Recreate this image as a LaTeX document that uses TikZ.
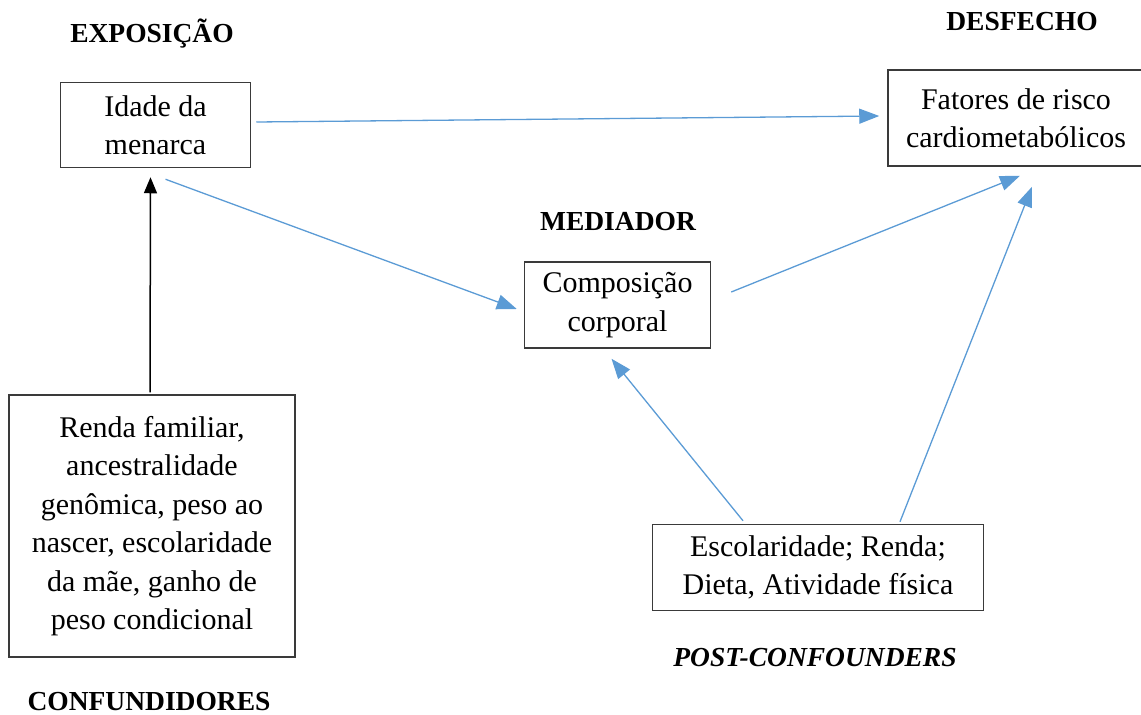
\documentclass[tikz,border=0pt]{standalone}
\usepackage{fontspec}
\setmainfont{Liberation Serif}
\usetikzlibrary{arrows.meta,calc}
\definecolor{linkblue}{HTML}{5B9BD5}
\definecolor{boxgray}{HTML}{3A3A3A}
\begin{document}
\begin{tikzpicture}[x=1pt,y=-1pt,
  box/.style={draw=boxgray,line width=1.5pt,rectangle,inner sep=0pt,align=center,
    font=\fontsize{30}{38.5}\selectfont},
  heading/.style={font=\fontsize{27.5}{30}\selectfont\bfseries,inner sep=0pt},
  link/.style={draw=linkblue,line width=1.3pt,-{Triangle[length=20pt,width=15pt]}},
  causal/.style={draw=black,line width=1.5pt,-{Triangle[length=16pt,width=13pt]}}]
\useasboundingbox (0,0) rectangle (1141,715);

% boxes
\node[box,minimum width=190pt,minimum height=85pt] (idade) at (155.5,125) {Idade da\\menarca};
\node[box,minimum width=256pt,minimum height=96pt] (fatores) at (1016,118) {Fatores de risco\\cardiometabólicos};
\node[box,minimum width=186pt,minimum height=86pt] (corpo) at (617.5,305) {Composição\\corporal};
\node[box,minimum width=286pt,minimum height=262pt] (renda) at (152,526)
  {Renda familiar,\\ancestralidade\\genômica, peso ao\\nascer, escolaridade\\da mãe, ganho de\\peso condicional};
\node[box,minimum width=331pt,minimum height=86pt] (post) at (818,567.5) {Escolaridade; Renda;\\Dieta, Atividade física};

% headings
\node[heading] (hexp) at (152,34) {EXPOSIÇÃO};
\node[heading] (hdes) at (1022,22) {DESFECHO};
\node[heading] (hmed) at (618,222) {MEDIADOR};
\node[heading,font=\fontsize{27.5}{30}\selectfont\bfseries\itshape] (hpost) at (815,658) {POST-CONFOUNDERS};
\node[heading] (hconf) at (149,702) {CONFUNDIDORES};

% connectors
\draw[causal] (renda.north -| 150,0) ++(0,-2) coordinate (rtop) -- ($(idade.south)+(-5,9)$);
\draw[link] ($(idade.east)+(5,-3)$) -- ($(fatores.west)+(-8,-2)$);
\draw[link] ($(idade.south)+(10,11)$) -- ($(corpo.west)+(-7,4)$);
\draw[link] ($(corpo.east)+(20,-13)$) -- ($(fatores.south)+(4,9)$);
\draw[link] ($(post.north)+(82,-2)$) -- ($(fatores.south)+(16,20)$);
\draw[link] ($(post.north)+(-75,-3)$) -- ($(corpo.south)+(-6,10)$);
\end{tikzpicture}
\end{document}
